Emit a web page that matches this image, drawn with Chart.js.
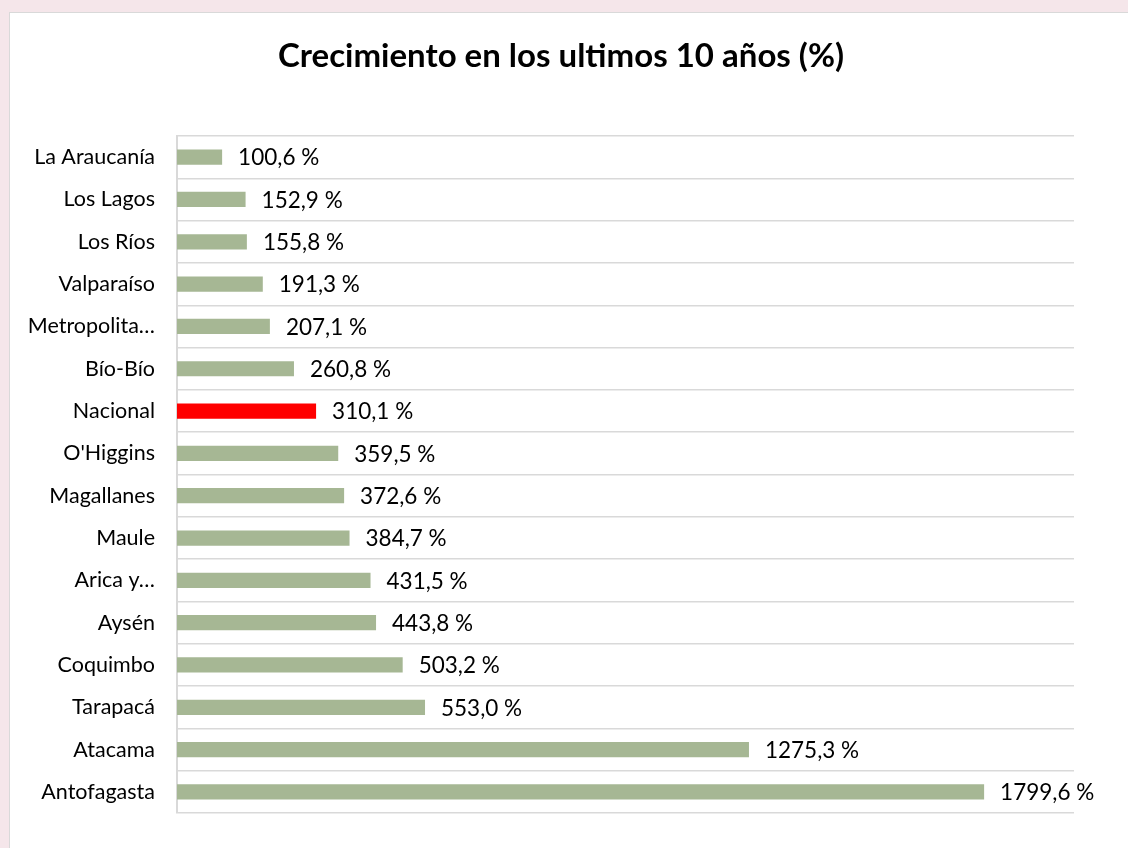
<!DOCTYPE html>
<html lang="es">
<head>
<meta charset="UTF-8">
<title>Crecimiento en los ultimos 10 años</title>
<script src="https://cdn.jsdelivr.net/npm/chart.js@4.4.1/dist/chart.umd.min.js"></script>
<style>
    html, body { margin: 0; padding: 0; }
    body { width: 1128px; height: 848px; background: #f5e6ea; position: relative; overflow: hidden; }
    #panel {
        position: absolute; left: 9px; top: 12px; width: 1118px; height: 835px;
        background: #fff; border-left: 1px solid #d9d9d9; border-top: 1px solid #d9d9d9;
    }
    #chart { display: block; }
    #titulo {
        position: absolute; left: 0; width: 1122px; top: 34px; text-align: center;
        font: bold 33px Lato, "Open Sans", sans-serif; line-height: 40px; color: #000;
    }
</style>
</head>
<body>
<div id="panel"><canvas id="chart" width="1118" height="835"></canvas></div>
<div id="titulo">Crecimiento en los ultimos 10 años (%)</div>
<script>
const regiones = ['La Araucanía', 'Los Lagos', 'Los Ríos', 'Valparaíso', 'Metropolita…', 'Bío-Bío', 'Nacional',
    "O'Higgins", 'Magallanes', 'Maule', 'Arica y…', 'Aysén', 'Coquimbo', 'Tarapacá', 'Atacama', 'Antofagasta'];
const crecimiento = [100.6, 152.9, 155.8, 191.3, 207.1, 260.8, 310.1, 359.5, 372.6, 384.7, 431.5, 443.8, 503.2, 553.0, 1275.3, 1799.6];
const ejeMax = 2000;

const VERDE = '#a6b794';
const ROJO = '#ff0000';
const FUENTE = 'Lato, "Open Sans", sans-serif';

// etiquetas de valor a la derecha de cada barra
const etiquetas = {
    id: 'etiquetas',
    afterDatasetsDraw(chart) {
        const ctx = chart.ctx;
        const meta = chart.getDatasetMeta(0);
        ctx.save();
        ctx.font = '22.5px ' + FUENTE;
        ctx.fillStyle = '#000';
        ctx.textBaseline = 'middle';
        ctx.textAlign = 'left';
        meta.data.forEach((bar, i) => {
            const txt = crecimiento[i].toFixed(1).replace('.', ',') + ' %';
            ctx.fillText(txt, bar.x + 16, bar.y + 1);
        });
        ctx.restore();
    }
};

new Chart(document.getElementById('chart'), {
    type: 'bar',
    data: {
        labels: regiones,
        datasets: [{
            data: crecimiento,
            backgroundColor: regiones.map(r => r === 'Nacional' ? ROJO : VERDE),
            barPercentage: 0.36,
            categoryPercentage: 1
        }]
    },
    options: {
        indexAxis: 'y',
        responsive: false,
        animation: false,
        layout: { padding: { top: 123, right: 54, bottom: 34, left: 0 } },
        plugins: {
            legend: { display: false },
            tooltip: { enabled: false },
            title: { display: false }
        },
        scales: {
            x: { display: false, min: 0, max: ejeMax },
            y: {
                afterFit(scale) { scale.width = 167; },
                grid: { color: '#d9d9d9', drawTicks: false, lineWidth: 1.5 },
                border: { color: '#d9d9d9', width: 2 },
                ticks: { color: '#000', padding: 22, font: { family: FUENTE, size: 21.5 } }
            }
        }
    },
    plugins: [etiquetas]
});
</script>
</body>
</html>
